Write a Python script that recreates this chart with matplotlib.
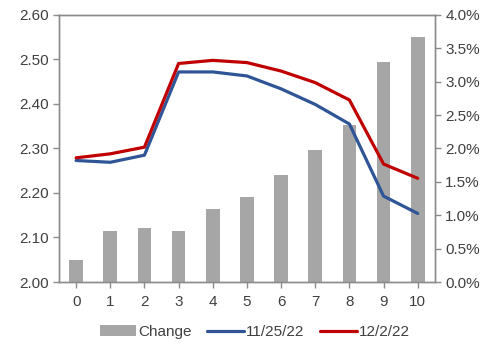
import matplotlib.pyplot as plt
from matplotlib.ticker import FuncFormatter

plt.rcParams["font.family"] = ["Liberation Sans", "DejaVu Sans"]
plt.rcParams["font.size"] = 11

maturity = list(range(11))
change_pct = [0.33, 0.77, 0.81, 0.76, 1.10, 1.28, 1.60, 1.98, 2.35, 3.29, 3.67]
curve_1125 = [2.273, 2.269, 2.285, 2.472, 2.472, 2.463, 2.434, 2.399, 2.355, 2.193, 2.154]
curve_1202 = [2.279, 2.288, 2.303, 2.491, 2.498, 2.493, 2.474, 2.448, 2.409, 2.265, 2.233]

GRAY = "#A6A6A6"
SPINE = "#8C8C8C"
TEXT = "#404040"

fig = plt.figure(figsize=(4.88, 3.45), dpi=100)
ax = fig.add_axes([0.121, 0.1826, 0.770, 0.774])
ax2 = ax.twinx()

# bars on the right (percent) axis, drawn behind the lines
ax2.bar(maturity, change_pct, width=0.4, color=GRAY, label="Change", zorder=1)
ax.set_zorder(ax2.get_zorder() + 1)
ax.patch.set_visible(False)

ax.plot(maturity, curve_1125, color="#2F5597", lw=2.3, label="11/25/22",
        solid_capstyle="round")
ax.plot(maturity, curve_1202, color="#C00000", lw=2.3, label="12/2/22",
        solid_capstyle="round")

ax.set_xlim(-0.5, 10.5)
ax.set_ylim(2.0, 2.6)
ax.set_yticks([2.0 + 0.1 * i for i in range(7)])
ax.yaxis.set_major_formatter(FuncFormatter(lambda v, _: f"{v:.2f}"))
ax.set_xticks(maturity)

ax2.set_ylim(0, 4.0)
ax2.set_yticks([0.5 * i for i in range(9)])
ax2.yaxis.set_major_formatter(FuncFormatter(lambda v, _: f"{v:.1f}%"))

for a in (ax, ax2):
    for s in a.spines.values():
        s.set_color(SPINE)
        s.set_linewidth(1.0)
    a.tick_params(colors=SPINE, labelcolor=TEXT, length=4, width=1.0,
                  direction="out", labelsize=11)
ax.tick_params(axis="x", pad=5)

handles = ax2.get_legend_handles_labels()[0] + ax.get_legend_handles_labels()[0]
labels = ["Change", "11/25/22", "12/2/22"]
fig.legend(handles, labels, loc="center", bbox_to_anchor=(0.522, 0.038), ncol=3,
           frameon=False, handlelength=2.4, handletextpad=0.15, columnspacing=1.0,
           fontsize=11, labelcolor=TEXT)

fig.savefig("out.png", dpi=100)
